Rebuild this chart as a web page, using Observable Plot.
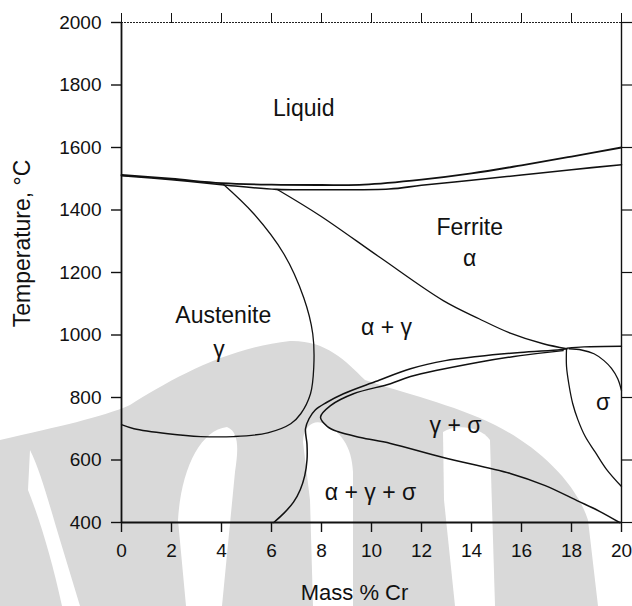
<!DOCTYPE html>
<html>
<head>
<meta charset="utf-8">
<script src="https://cdn.jsdelivr.net/npm/d3@7"></script>
<script src="https://cdn.jsdelivr.net/npm/@observablehq/plot@0.6"></script>
<style>
  body { margin: 0; background: #fff; }
  #wrap { position: relative; width: 632px; height: 606px; }
  #wrap svg { display: block; }
  #mark { position: absolute; left: 0; top: 0; }
  #chart { position: absolute; left: 0; top: 0; }
</style>
</head>
<body>
<div id="wrap">
  <!-- faint background emblem -->
  <svg id="mark" width="632" height="606" viewBox="0 0 632 606">
    <path fill="#d9d9d9" d="M0,440 C60,426 100,418 130,405 C170,380 225,348 290,341 C325,340 345,360 365,380 C400,392 455,405 495,425 C535,445 575,480 588,520 L598,606 L0,606 Z"/>
    <path fill="#fff" d="M30,450 C40,470 48,500 60,540 L80,606 L62,606 C52,560 40,520 28,490 Z"/>
    <path fill="#fff" d="M227,427 C240,432 238,452 235,472 L222,606 L186,606 L178,520 C181,470 200,430 227,427 Z"/>
    <path fill="#fff" d="M303,442 C303,426 314,420 322,423 C340,430 352,446 353,472 L353,606 L313,606 L310,500 Z"/>
    <path fill="#fff" d="M443,432 C455,424 480,426 490,440 L495,606 L455,606 L444,500 Z"/>
  </svg>
  <div id="chart"></div>
</div>
<script>
// Isopleth of the Fe–Cr–Ni system: mass % Cr vs temperature (°C)
const crTicks = [0, 2, 4, 6, 8, 10, 12, 14, 16, 18, 20];
const tempTicks = [400, 600, 800, 1000, 1200, 1400, 1600, 1800, 2000];

// Phase boundaries as [mass % Cr, °C]
const liquidus = [[0, 1512], [2, 1500], [4, 1486], [6, 1481], [8, 1480], [9.7, 1481],
  [12, 1497], [14, 1517], [16, 1543], [18, 1571], [20, 1600]];
const solidus = [[0, 1510], [2, 1497], [4, 1481], [6.2, 1466], [8, 1465], [10.7, 1467],
  [12, 1479], [14, 1495], [16, 1512], [18, 1529], [20, 1545]];
const ferriteBoundary = [[6.25, 1465], [7.96, 1381], [10.36, 1247], [12.87, 1110],
  [14.3, 1052], [15.55, 1006], [16.87, 972], [17.82, 956]];
const austeniteBoundary = [[4.05, 1484], [5.29, 1388], [6.49, 1260], [7.29, 1119],
  [7.65, 1004], [7.69, 896], [7.56, 812], [7.17, 748], [6.77, 716], [5.85, 687],
  [4.49, 675], [3.17, 675], [1.86, 684], [0.5, 700], [0, 713]];
const threePhaseBoundary = [[6.09, 400], [6.5, 430], [6.88, 465], [7.15, 505],
  [7.33, 550], [7.42, 600], [7.42, 650], [7.36, 700], [7.5, 732], [7.75, 760], [8.2, 784],
  [8.88, 812], [10.16, 851], [11.56, 892], [12.95, 918], [14.23, 931], [15.95, 944],
  [17.54, 953], [17.82, 956]];
const sigmaNose = [[17.66, 950], [15.95, 934], [14.23, 912], [11.56, 867], [10.76, 844],
  [9.28, 812], [8.36, 774], [7.96, 737], [8.24, 707], [8.64, 691], [9.56, 672],
  [10.76, 653], [12.87, 608], [15.55, 557], [16.95, 518], [18.22, 470], [19.14, 435],
  [19.92, 400]];
const sigmaTop = [[17.82, 958], [18.5, 962], [20, 964]];
const sigmaRight = [[17.9, 956], [18.4, 952], [18.9, 940], [19.3, 918], [19.6, 893],
  [19.85, 860], [20, 822]];
const sigmaLeft = [[17.8, 955], [17.8, 900], [17.9, 840], [18.05, 780], [18.25, 730],
  [18.55, 675], [18.95, 625], [19.4, 570], [20, 515]];

// Phase-field labels
const fieldNames = ["Liquid", "Ferrite", "α", "Austenite", "γ", "α + γ", "γ + σ", "α + γ + σ", "σ"];
const fieldCr = [7.29, 13.93, 13.93, 4.07, 3.9, 10.6, 13.36, 9.96, 19.26];
const fieldTemp = [1723, 1343, 1244, 1062, 953, 1023, 710, 496, 784];
const fields = fieldNames.map((name, i) => ({name, cr: fieldCr[i], t: fieldTemp[i]}));

const boundary = (pts, width = 1.3) =>
  Plot.line(pts, {x: d => d[0], y: d => d[1], curve: "catmull-rom", stroke: "#111", strokeWidth: width});

const plain = d => String(d);

const chart = Plot.plot({
  width: 632,
  height: 606,
  marginLeft: 121,
  marginRight: 11,
  marginTop: 22,
  marginBottom: 84,
  x: {domain: [0, 20]},
  y: {domain: [400, 2000]},
  style: {fontFamily: "'Liberation Sans', Arial, sans-serif", fontSize: "19px", color: "#111", background: "transparent"},
  marks: [
    // frame
    Plot.ruleY([2000], {stroke: "#222", strokeWidth: 1.2, strokeDasharray: "2,1"}),
    Plot.ruleY([400], {stroke: "#111", strokeWidth: 1.8}),
    Plot.ruleX([0], {stroke: "#111", strokeWidth: 1.8}),
    Plot.ruleX([20], {stroke: "#111", strokeWidth: 1.4}),
    // axes
    Plot.axisX({anchor: "bottom", ticks: crTicks, tickFormat: plain, tickSize: 10, tickPadding: 11, strokeWidth: 1.4, label: null, fontSize: 19}),
    Plot.axisX({anchor: "top", ticks: crTicks, tickSize: 10, tickFormat: () => "", strokeWidth: 1, label: null}),
    Plot.axisY({anchor: "left", ticks: tempTicks, tickFormat: plain, tickSize: 10, tickPadding: 10, strokeWidth: 1.4, label: null, fontSize: 19}),
    Plot.axisY({anchor: "right", ticks: tempTicks, tickSize: 10, tickFormat: () => "", strokeWidth: 1.2, label: null}),
    // axis titles
    Plot.text(["Mass % Cr"], {x: 9.32, frameAnchor: "bottom", dy: 77, fontSize: 22, fill: "#111"}),
    Plot.text(["Temperature, °C"], {y: 1293, frameAnchor: "left", textAnchor: "middle", dx: -99, rotate: -90, fontSize: 23, fill: "#111"}),
    // phase boundaries
    boundary(liquidus, 1.8),
    boundary(solidus, 1.6),
    boundary(ferriteBoundary),
    boundary(austeniteBoundary),
    boundary(threePhaseBoundary, 1.5),
    boundary(sigmaNose, 1.5),
    boundary(sigmaTop),
    boundary(sigmaRight),
    boundary(sigmaLeft),
    // field labels
    Plot.text(fields, {x: "cr", y: "t", text: "name", fontSize: 23, fill: "#111"})
  ]
});

document.getElementById("chart").append(chart);
</script>
</body>
</html>
